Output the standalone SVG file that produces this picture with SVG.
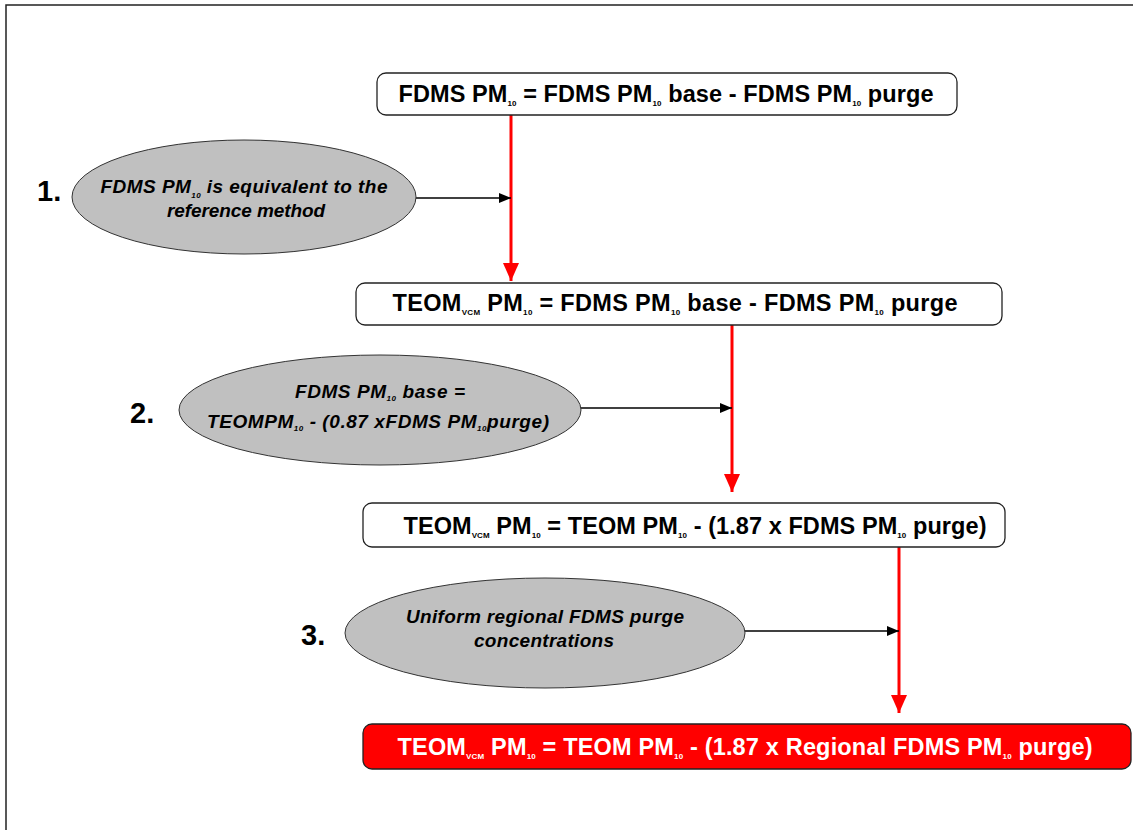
<svg xmlns="http://www.w3.org/2000/svg" width="1133" height="830" viewBox="0 0 1133 830">
<style>
.box{fill:#fff;stroke:#222;stroke-width:1.3}
.rbox{fill:#ff0000;stroke:#222;stroke-width:1.3}
.ell{fill:#c0c0c0;stroke:#333;stroke-width:1}
.bt{font-family:"Liberation Sans",Arial,sans-serif;font-weight:bold;font-size:23.5px;fill:#000;text-anchor:middle}
.wt{fill:#fff}
.et{font-family:"Liberation Sans",Arial,sans-serif;font-weight:bold;font-style:italic;font-size:19px;fill:#000;text-anchor:middle}
.num{font-family:"Liberation Sans",Arial,sans-serif;font-weight:bold;font-size:29px;fill:#000}
.sub{font-size:8px}
.red{stroke:#ff0000;stroke-width:3;fill:none}
.blk{stroke:#000;stroke-width:1.5;fill:none}
</style>
<defs>
<marker id="rh" markerWidth="18" markerHeight="16" refX="18" refY="8" orient="auto" markerUnits="userSpaceOnUse" viewBox="0 0 18 16">
<path d="M0,0 L18,8 L0,16 Z" fill="#ff0000"/>
</marker>
<marker id="bh" markerWidth="12" markerHeight="10" refX="12" refY="5" orient="auto" markerUnits="userSpaceOnUse" viewBox="0 0 12 10">
<path d="M0,0 L12,5 L0,10 Z" fill="#000"/>
</marker>
</defs>
<rect width="1133" height="830" fill="#fff"/>
<path d="M6,830 L6,5 L1133,5" fill="none" stroke="#222" stroke-width="1.5"/>

<g id="connectors">
<line class="red" x1="511" y1="115" x2="511" y2="281" marker-end="url(#rh)"/>
<line class="red" x1="732" y1="325" x2="732" y2="492" marker-end="url(#rh)"/>
<line class="red" x1="899" y1="547" x2="899" y2="713" marker-end="url(#rh)"/>
<line class="blk" x1="416" y1="198" x2="511" y2="198" marker-end="url(#bh)"/>
<line class="blk" x1="581" y1="408" x2="732" y2="408" marker-end="url(#bh)"/>
<line class="blk" x1="745" y1="631" x2="899" y2="631" marker-end="url(#bh)"/>
</g>

<g id="box1">
<rect class="box" x="377" y="73" width="580" height="42" rx="9"/>
<text class="bt" x="666" y="102" textLength="535" lengthAdjust="spacing">FDMS PM<tspan class="sub" dy="4">10</tspan><tspan dy="-4"> = FDMS PM</tspan><tspan class="sub" dy="4">10</tspan><tspan dy="-4"> base - FDMS PM</tspan><tspan class="sub" dy="4">10</tspan><tspan dy="-4"> purge</tspan></text>
</g>

<g id="ellipse1">
<ellipse class="ell" cx="244" cy="197" rx="172" ry="57"/>
<text class="et" x="244" y="193" textLength="287" lengthAdjust="spacing">FDMS PM<tspan class="sub" font-size="12" dy="5">10</tspan><tspan dy="-5"> is equivalent to the</tspan></text>
<text class="et" x="246" y="217" textLength="158" lengthAdjust="spacing">reference method</text>
</g>
<text id="label1" class="num" x="37" y="201">1.</text>

<g id="box2">
<rect class="box" x="356" y="283" width="646" height="42" rx="9"/>
<text class="bt" x="675" y="311" textLength="565" lengthAdjust="spacing">TEOM<tspan class="sub" font-size="7" dy="4">VCM</tspan><tspan dy="-4"> PM</tspan><tspan class="sub" dy="4">10</tspan><tspan dy="-4"> = FDMS PM</tspan><tspan class="sub" dy="4">10</tspan><tspan dy="-4"> base - FDMS PM</tspan><tspan class="sub" dy="4">10</tspan><tspan dy="-4"> purge</tspan></text>
</g>

<g id="ellipse2">
<ellipse class="ell" cx="380" cy="410" rx="201" ry="55"/>
<text class="et" x="380" y="398" textLength="170" lengthAdjust="spacing">FDMS PM<tspan class="sub" dy="3">10</tspan><tspan dy="-3"> base =</tspan></text>
<text class="et" x="378" y="428" textLength="342" lengthAdjust="spacing">TEOMPM<tspan class="sub" dy="3">10</tspan><tspan dy="-3"> - (0.87 xFDMS PM</tspan><tspan class="sub" dy="3">10</tspan><tspan dy="-3">purge)</tspan></text>
</g>
<text id="label2" class="num" x="130" y="423">2.</text>

<g id="box3">
<rect class="box" x="363" y="503" width="642" height="44" rx="9"/>
<text class="bt" x="695" y="534" textLength="583" lengthAdjust="spacing">TEOM<tspan class="sub" font-size="7" dy="4">VCM</tspan><tspan dy="-4"> PM</tspan><tspan class="sub" dy="4">10</tspan><tspan dy="-4"> = TEOM PM</tspan><tspan class="sub" dy="4">10</tspan><tspan dy="-4"> - (1.87 x FDMS PM</tspan><tspan class="sub" dy="4">10</tspan><tspan dy="-4"> purge)</tspan></text>
</g>

<g id="ellipse3">
<ellipse class="ell" cx="545" cy="633" rx="200" ry="55"/>
<text class="et" x="545" y="623" textLength="278" lengthAdjust="spacing">Uniform regional FDMS purge</text>
<text class="et" x="544" y="647" textLength="140" lengthAdjust="spacing">concentrations</text>
</g>
<text id="label3" class="num" x="301" y="645">3.</text>

<g id="box4">
<rect class="rbox" x="363" y="724" width="768" height="45" rx="9"/>
<text class="bt wt" x="745" y="755" textLength="695" lengthAdjust="spacing">TEOM<tspan class="sub" font-size="7" dy="4">VCM</tspan><tspan dy="-4"> PM</tspan><tspan class="sub" dy="4">10</tspan><tspan dy="-4"> = TEOM PM</tspan><tspan class="sub" dy="4">10</tspan><tspan dy="-4"> - (1.87 x Regional FDMS PM</tspan><tspan class="sub" dy="4">10</tspan><tspan dy="-4"> purge)</tspan></text>
</g>
</svg>
